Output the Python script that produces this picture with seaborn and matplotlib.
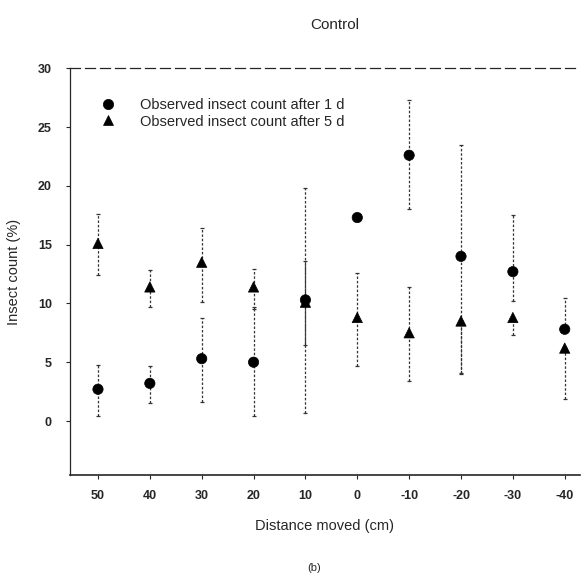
import matplotlib
matplotlib.use("Agg")
import matplotlib.pyplot as plt
import seaborn as sns
import pandas as pd
import numpy as np

distances = ["50", "40", "30", "20", "10", "0", "-10", "-20", "-30", "-40"]
day1_mean = [2.7, 3.2, 5.3, 5.0, 10.3, 17.3, 22.6, 14.0, 12.7, 7.8]
day1_low = [0.4, 1.5, 1.6, 0.4, 0.7, 17.3, 18.0, 4.0, 10.2, 7.8]
day1_high = [4.8, 4.7, 8.8, 9.7, 19.8, 17.3, 27.3, 23.5, 17.5, 10.5]
day5_mean = [15.1, 11.4, 13.5, 11.4, 10.1, 8.8, 7.5, 8.5, 8.8, 6.2]
day5_low = [12.4, 9.7, 10.1, 9.5, 6.5, 4.7, 3.4, 4.1, 7.3, 1.9]
day5_high = [17.6, 12.8, 16.4, 12.9, 13.6, 12.6, 11.4, 8.5, 8.8, 6.2]

label1 = "Observed insect count after 1 d"
label5 = "Observed insect count after 5 d"

sns.set_style("ticks")
plt.rcParams['font.family'] = ['Liberation Sans', 'DejaVu Sans']

fig = plt.figure(figsize=(5.88, 5.88), dpi=100)
ax = fig.add_axes([0.119, 0.192, 0.867, 0.692])

df = pd.DataFrame({
    "pos": list(range(len(distances))) * 2,
    "value": day1_mean + day5_mean,
    "series": [label1] * len(distances) + [label5] * len(distances),
})

xs = np.arange(len(distances))
for mean, low, high in [(day1_mean, day1_low, day1_high), (day5_mean, day5_low, day5_high)]:
    m = np.array(mean); lo = np.array(low); hi = np.array(high)
    eb = ax.errorbar(xs, m, yerr=[m - lo, hi - m], fmt="none", ecolor="#333333",
                     elinewidth=0.9, capsize=1.5, capthick=0.9, zorder=1)
    for lc in eb[2]:
        lc.set_linestyle((0, (2, 1.5)))

sns.scatterplot(data=df, x="pos", y="value", style="series",
                markers={label1: "o", label5: "^"}, color="black",
                s=55, edgecolor="black", linewidth=0.5, ax=ax, zorder=3)

ax.set_xlim(-0.54, 9.29)
ax.set_ylim(-4.6, 30)
ax.set_xticks(xs)
ax.set_xticklabels(distances)
ax.set_yticks([0, 5, 10, 15, 20, 25, 30])
ax.tick_params(axis="both", labelsize=9, length=3, width=0.8)
for lab in ax.get_xticklabels() + ax.get_yticklabels():
    lab.set_fontweight("bold")
ax.tick_params(axis="x", pad=8)
ax.tick_params(axis="y", pad=10)

ax.spines["right"].set_visible(False)
ax.spines["top"].set_linestyle((0, (8, 4)))
ax.spines["top"].set_linewidth(0.9)
ax.spines["left"].set_linewidth(0.9)
ax.spines["bottom"].set_linewidth(1.2)

ax.set_xlabel("Distance moved (cm)", fontsize=10.5, labelpad=12)
ax.set_ylabel("Insect count (%)", fontsize=10.5, labelpad=12)
ax.set_title("Control", fontsize=11, pad=28, x=0.52)

leg = ax.legend(loc="upper left", bbox_to_anchor=(0.02, 0.96), frameon=False,
                fontsize=10.5, handletextpad=1.2, labelspacing=0.2, title=None)

fig.text(0.535, 0.025, "(b)", ha="center", va="bottom", fontsize=8)

fig.savefig("out.png", dpi=100)
